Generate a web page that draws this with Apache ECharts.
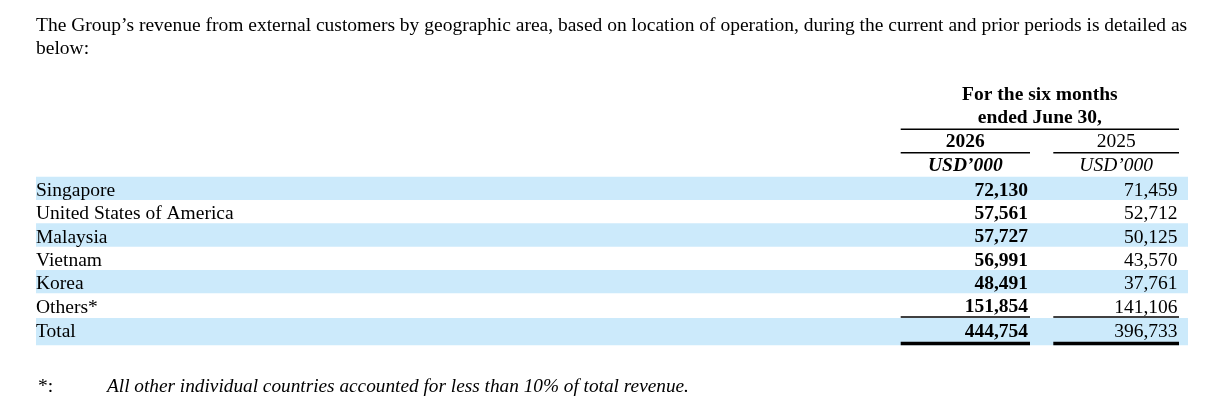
<!DOCTYPE html>
<html>
<head>
<meta charset="utf-8">
<script src="https://cdn.jsdelivr.net/npm/echarts@6/dist/echarts.min.js"></script>
<style>
  html, body { margin: 0; padding: 0; background: #fff; }
  #chart { width: 1209px; height: 408px; }
</style>
</head>
<body>
<div id="chart"></div>
<script>
// 表格数据
var regions = ['Singapore', 'United States of America', 'Malaysia', 'Vietnam', 'Korea', 'Others*', 'Total'];
var rev2026 = [72130, 57561, 57727, 56991, 48491, 151854, 444754];
var rev2025 = [71459, 52712, 50125, 43570, 37761, 141106, 396733];
var years = ['2026', '2025'];
var unitLabel = 'USD\u2019000';
var introLines = [
    'The Group\u2019s revenue from external customers by geographic area, based on location of operation, during the current and prior periods is detailed as',
    'below:'
];
var headerLines = ['For the six months', 'ended June 30,'];
var footMark = '*:';
var footNote = 'All other individual countries accounted for less than 10% of total revenue.';

var FONT = '"Liberation Serif", "Times New Roman", serif';
var FS = 19.5;
var BASE_OFF = 4;   // 基线到文字中线的距离
var BAND = '#cceafb';
// 列位置 (相对于 grid 左边)
var COL1_L = 864.7, COL1_R = 994, COL2_L = 1017.3, COL2_R = 1143;
var NUM1_R = 992, NUM2_R = 1141.5;

function fmt(v) {
    return v.toLocaleString('en-US');
}

function txt(text, x, baseline, opt) {
    opt = opt || {};
    return {
        type: 'text',
        x: x,
        y: baseline - BASE_OFF,
        style: {
            text: text,
            font: (opt.style || '') + ' ' + (opt.weight || 'normal') + ' ' + (opt.size || FS) + 'px ' + FONT,
            fill: '#000',
            align: opt.align || 'left',
            verticalAlign: 'middle'
        }
    };
}

function rule(x1, x2, y, w) {
    return {
        type: 'line',
        shape: { x1: x1, y1: y, x2: x2, y2: y },
        style: { stroke: '#000', lineWidth: w }
    };
}

var gridLeft = 36;
var myChart = echarts.init(document.getElementById('chart'));
var option = {
    animation: false,
    grid: { left: gridLeft, right: 21, top: 176.7, height: 163.3 },
    xAxis: { type: 'value', min: 0, max: 1, show: false },
    yAxis: { type: 'category', data: regions, inverse: true, show: false },
    graphic: [
        txt(introLines[0], 36, 29.5),
        txt(introLines[1], 36, 52.5),
        txt(headerLines[0], gridLeft + (COL1_L + COL2_R) / 2, 98.5, { weight: 'bold', align: 'center' }),
        txt(headerLines[1], gridLeft + (COL1_L + COL2_R) / 2, 121.5, { weight: 'bold', align: 'center' }),
        rule(gridLeft + COL1_L, gridLeft + COL2_R, 129.3, 1.5),
        txt(years[0], gridLeft + (COL1_L + COL1_R) / 2, 146, { weight: 'bold', align: 'center' }),
        txt(years[1], gridLeft + (COL2_L + COL2_R) / 2, 146, { align: 'center' }),
        rule(gridLeft + COL1_L, gridLeft + COL1_R, 152.7, 1.5),
        rule(gridLeft + COL2_L, gridLeft + COL2_R, 152.7, 1.5),
        txt(unitLabel, gridLeft + (COL1_L + COL1_R) / 2, 170, { weight: 'bold', style: 'italic', align: 'center' }),
        txt(unitLabel, gridLeft + (COL2_L + COL2_R) / 2, 170, { style: 'italic', align: 'center' }),
        txt(footMark, 38, 391),
        txt(footNote, 107, 391, { style: 'italic', size: 19.3 })
    ],
    series: [{
        type: 'custom',
        data: regions.map(function (r, i) { return [0, i]; }),
        renderItem: function (params, api) {
            var i = params.dataIndex;
            var cs = params.coordSys;
            var c = api.coord([0, i]);
            var h = api.size([0, 1])[1];
            var isTotal = i === regions.length - 1;
            var top = c[1] - h / 2;
            var bh = h;
            var ty = c[1] + 6.4 - BASE_OFF;
            if (isTotal) {
                top += 1.3;
                bh += 4;
                ty += 1;
            }
            var children = [];
            if (i % 2 === 0) {
                children.push({
                    type: 'rect',
                    shape: { x: cs.x, y: top, width: cs.width, height: bh },
                    style: { fill: BAND }
                });
            }
            var mk = function (text, x, align, weight) {
                return {
                    type: 'text',
                    x: x,
                    y: ty,
                    style: {
                        text: text,
                        font: (weight || 'normal') + ' ' + FS + 'px ' + FONT,
                        fill: '#000',
                        align: align,
                        verticalAlign: 'middle'
                    }
                };
            };
            children.push(mk(regions[i], cs.x, 'left'));
            children.push(mk(fmt(rev2026[i]), cs.x + NUM1_R, 'right', 'bold'));
            children.push(mk(fmt(rev2025[i]), cs.x + NUM2_R, 'right'));
            if (isTotal) {
                children.push(rule(cs.x + COL1_L, cs.x + COL1_R, top - 1, 1.4));
                children.push(rule(cs.x + COL2_L, cs.x + COL2_R, top - 1, 1.4));
                children.push(rule(cs.x + COL1_L, cs.x + COL1_R, top + bh - 1.8, 3.3));
                children.push(rule(cs.x + COL2_L, cs.x + COL2_R, top + bh - 1.8, 3.3));
            }
            return { type: 'group', children: children };
        }
    }]
};
myChart.setOption(option);
</script>
</body>
</html>
